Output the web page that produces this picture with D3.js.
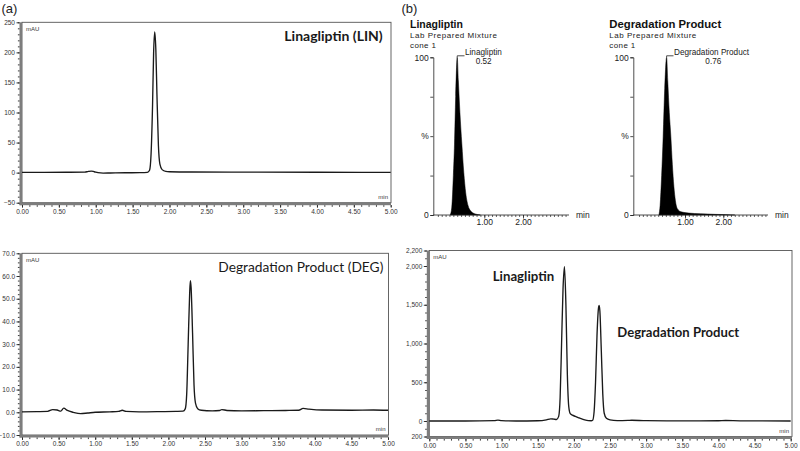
<!DOCTYPE html>
<html><head><meta charset="utf-8">
<script src="https://cdn.jsdelivr.net/npm/d3@7"></script>
<style>
html,body{margin:0;padding:0;background:#fff;}
svg{display:block;}
</style></head>
<body>
<svg id="c" width="800" height="451"></svg>
<script>
// ---------- DATA ----------
// (a) top: Linagliptin (LIN) HPLC, time (min) vs mAU
const linTime = [0,0.3,0.6,0.85,0.9,0.94,0.98,1.03,1.1,1.2,1.4,1.6,1.7,1.73,1.75,1.77,1.785,1.80,1.815,1.83,1.85,1.87,1.9,1.95,2.0,2.3,3.0,4.0,5.0];
const linMAU  = [0.5,0.5,0.6,0.8,2,2.6,1.5,0,-0.8,-0.6,-0.2,0,0.5,4,30,110,200,234,205,130,45,14,5,2,1.5,1,0.8,0.6,0.5];
// (a) bottom: Degradation Product (DEG)
const degTime = [0,0.2,0.35,0.42,0.48,0.53,0.57,0.62,0.7,0.8,0.9,1.0,1.2,1.32,1.37,1.42,1.6,1.9,2.1,2.2,2.23,2.25,2.27,2.29,2.30,2.31,2.33,2.35,2.37,2.4,2.45,2.6,2.7,2.73,2.8,3.0,3.3,3.6,3.78,3.84,3.92,4.1,4.5,4.8,5.0];
const degMAU  = [0.2,0.3,0.4,1.2,1.0,0.5,1.8,0.8,0.0,-0.6,-0.3,0,0.2,0.4,0.9,0.4,0.2,0.3,0.4,0.5,1.5,8,30,52,58,55,35,12,4,1.6,0.9,0.6,0.8,1.2,0.8,0.6,0.7,0.8,0.9,1.7,1.4,1.0,0.9,1.0,0.9];
// (b) bottom: mixture
const mixTime = [0,0.5,0.9,0.95,1.0,1.2,1.5,1.62,1.68,1.72,1.76,1.79,1.81,1.83,1.85,1.87,1.89,1.91,1.93,1.95,1.98,2.02,2.06,2.1,2.15,2.2,2.24,2.26,2.28,2.30,2.32,2.34,2.35,2.36,2.38,2.40,2.42,2.45,2.5,2.6,2.75,2.8,3.0,3.5,4.0,4.1,4.3,5.0];
const mixMAU  = [0,0,5,12,4,0,3,15,28,25,20,60,300,1000,1700,1990,1500,600,180,95,75,60,45,30,15,5,3,10,120,500,1100,1450,1490,1420,900,350,100,35,15,5,8,10,4,2,3,6,2,0];
// (b) top: MS chromatograms (% intensity)
const msLinTime = [0.12,0.16,0.20,0.23,0.26,0.30,0.33,0.37,0.42,0.47,0.52,0.58,0.65,0.75,0.9];
const msLinPct  = [0,5,25,45,75,100,85,65,45,27,14,6,2.5,0.8,0];
const msDegTime = [0.32,0.35,0.39,0.43,0.47,0.52,0.55,0.59,0.63,0.67,0.71,0.75,0.8,0.9,1.1,1.4,1.8,2.1,2.3];
const msDegPct  = [0,6,25,50,80,100,85,65,50,32,18,9,4,2,1.2,0.8,0.4,0.2,0];

const hplcXMajor = [0,0.5,1,1.5,2,2.5,3,3.5,4,4.5,5];
const linYMajor = [-50,0,50,100,150,200,250];
const degYMajor = [-10,0,10,20,30,40,50,60,70];
const mixYMajor = [-200,0,500,1000,1500,2000,2200];
const mixYLabels = ["200","0","500","1,000","1,500","2,000","2,200"];
const msXMajor = [1,2];
const msYTicks = [0,25,50,75,100];

// ---------- DRAW ----------
const svg = d3.select("#c");
const TICKFONT = "Liberation Sans, Arial, sans-serif";

function fitWidth(sel, w){
  sel.each(function(){
    const len = this.getComputedTextLength();
    const fs = parseFloat(this.getAttribute("font-size"));
    if(len>0) this.setAttribute("font-size", fs*w/len);
  });
}
function spreadWidth(sel, w){
  sel.each(function(){
    const len = this.getComputedTextLength();
    const n = this.textContent.length;
    if(len>0 && n>1) this.setAttribute("letter-spacing", Math.max(0,(w-len)/(n-1)));
  });
}

function drawHPLC(cfg){
  const g = svg.append("g");
  const x = d3.scaleLinear().domain([0,5]).range([cfg.x0,cfg.x1]);
  const y = d3.scaleLinear().domain(cfg.ydom).range([cfg.yBot,cfg.yTop]);
  const bw = 2.5;
  g.append("rect").attr("x",cfg.x0).attr("y",cfg.yTop)
    .attr("width",cfg.xr-cfg.x0).attr("height",cfg.yBot-cfg.yTop)
    .attr("fill","none").attr("stroke","#555").attr("stroke-width",0.9);
  g.append("rect").attr("x",cfg.x0-bw).attr("y",cfg.yTop).attr("width",bw)
    .attr("height",cfg.yBot-cfg.yTop+bw).attr("fill","#7d7d7d");
  g.append("rect").attr("x",cfg.x0-bw).attr("y",cfg.yBot).attr("width",cfg.xr-cfg.x0+bw)
    .attr("height",bw).attr("fill","#7d7d7d");
  const yMinor = d3.range(cfg.ydom[0], cfg.ydom[1]+1e-9, cfg.yMinorStep);
  const ya2 = g.append("g").attr("transform",`translate(${cfg.x0-bw},0)`)
    .call(d3.axisLeft(y).tickValues(yMinor).tickSize(1.6).tickFormat(""));
  ya2.select(".domain").remove();
  ya2.selectAll("line").attr("stroke","#222").attr("stroke-width",0.9);
  const ya = g.append("g").attr("transform",`translate(${cfg.x0-bw},0)`)
    .call(d3.axisLeft(y).tickValues(cfg.yMajor).tickSize(3).tickPadding(1.5)
      .tickFormat((d,i)=>cfg.yLabels? cfg.yLabels[i] : d3.format(cfg.yFmt)(d)));
  ya.select(".domain").remove();
  ya.selectAll("line").attr("stroke","#222").attr("stroke-width",0.9);
  ya.selectAll("text").attr("font-size",6.5).attr("font-family",TICKFONT).attr("fill","#333");
  const xMinor = d3.range(0,5.0001,0.1);
  const xa2 = g.append("g").attr("transform",`translate(0,${cfg.yBot+bw})`)
    .call(d3.axisBottom(x).tickValues(xMinor).tickSize(1.6).tickFormat(""));
  xa2.select(".domain").remove();
  xa2.selectAll("line").attr("stroke","#222").attr("stroke-width",0.9);
  const xa = g.append("g").attr("transform",`translate(0,${cfg.yBot+bw})`)
    .call(d3.axisBottom(x).tickValues(hplcXMajor).tickSize(2.5).tickPadding(1.5)
      .tickFormat(d3.format(".2f")));
  xa.select(".domain").remove();
  xa.selectAll("line").attr("stroke","#222").attr("stroke-width",0.9);
  xa.selectAll("text").attr("font-size",6.5).attr("font-family",TICKFONT).attr("fill","#333");
  g.append("text").attr("x",cfg.x0+4).attr("y",cfg.yTop+8.5).text("mAU")
    .attr("font-size",6).attr("font-family",TICKFONT).attr("fill","#333");
  g.append("text").attr("x",cfg.xr-3).attr("y",cfg.yBot-4).text("min")
    .attr("text-anchor","end").attr("font-size",6).attr("font-family",TICKFONT).attr("fill","#333");
  const pts = cfg.t.map((t,i)=>[t,cfg.v[i]]);
  g.append("path").datum(pts)
    .attr("d", d3.line().x(d=>x(d[0])).y(d=>y(d[1])).curve(d3.curveMonotoneX))
    .attr("fill","none").attr("stroke","#1a1a1a").attr("stroke-width",1.35)
    .attr("stroke-linejoin","round");
  return {g,x,y};
}

function drawMS(cfg){
  const g = svg.append("g");
  const x = d3.scaleLinear().domain([0,1]).range([cfg.zero, cfg.zero+cfg.ppm]);
  const y = d3.scaleLinear().domain([0,100]).range([215,57.3]);
  const axStart = cfg.ax0, axEnd = cfg.ax1;
  const pts = cfg.t.map((t,i)=>[t,cfg.v[i]]);
  g.append("path").datum(pts)
    .attr("d", d3.area().x(d=>x(d[0])).y0(y(0)).y1(d=>y(d[1])).curve(d3.curveMonotoneX))
    .attr("fill","#000").attr("stroke","#000").attr("stroke-width",0.5);
  const ya = g.append("g").attr("transform",`translate(${axStart},0)`)
    .call(d3.axisLeft(y).tickValues(msYTicks).tickSize(3).tickPadding(1.5)
      .tickFormat(d=> d===100?"100": d===50?"%": d===0?"0":""));
  ya.select(".domain").attr("stroke","#222").attr("stroke-width",0.8);
  ya.selectAll("line").attr("stroke","#222").attr("stroke-width",0.8);
  ya.selectAll("text").attr("font-size",8.5).attr("font-family",TICKFONT).attr("fill","#222");
  g.append("line").attr("x1",axStart).attr("x2",axEnd).attr("y1",y(0)).attr("y2",y(0))
    .attr("stroke","#222").attr("stroke-width",0.8);
  const tMin = x.invert(axStart+3), tMax = x.invert(axEnd);
  const minor = d3.range(Math.ceil(tMin*10)/10, tMax, 0.1);
  const xa2 = g.append("g").attr("transform",`translate(0,${y(0)})`)
    .call(d3.axisBottom(x).tickValues(minor).tickSize(2).tickFormat(""));
  xa2.select(".domain").remove();
  xa2.selectAll("line").attr("stroke","#222").attr("stroke-width",0.7);
  const xa = g.append("g").attr("transform",`translate(0,${y(0)})`)
    .call(d3.axisBottom(x).tickValues(msXMajor).tickSize(3.5).tickPadding(0.5).tickFormat(d3.format(".2f")));
  xa.select(".domain").remove();
  xa.selectAll("line").attr("stroke","#222").attr("stroke-width",0.8);
  xa.selectAll("text").attr("font-size",8.5).attr("font-family",TICKFONT).attr("fill","#222");
  g.append("text").attr("x",axEnd+7).attr("y",y(0)+3).text("min")
    .attr("font-size",8.5).attr("font-family",TICKFONT).attr("fill","#222");
  const t1 = g.append("text").attr("x",cfg.tx).attr("y",28.3).text(cfg.title)
    .attr("font-size",10.5).attr("font-weight","bold").attr("font-family",TICKFONT).attr("fill","#111");
  fitWidth(t1, cfg.titleW);
  const t2 = g.append("text").attr("x",cfg.tx).attr("y",38.2).text("Lab Prepared Mixture")
    .attr("font-size",8).attr("font-family",TICKFONT).attr("fill","#222");
  spreadWidth(t2, 87);
  const t3 = g.append("text").attr("x",cfg.tx).attr("y",47.5).text("cone 1")
    .attr("font-size",8).attr("font-family",TICKFONT).attr("fill","#222");
  spreadWidth(t3, 26);
  const iMax = d3.maxIndex(cfg.v);
  const px = x(cfg.t[iMax]), py = y(cfg.v[iMax]);
  g.append("path").attr("d",`M${px},${py}V${py-1.5}H${cfg.lx-0.5}`)
    .attr("fill","none").attr("stroke","#222").attr("stroke-width",0.8);
  g.append("text").attr("x",cfg.lx).attr("y",55).text(cfg.peakName)
    .attr("font-size",8.2).attr("font-family",TICKFONT).attr("fill","#222");
  g.append("text").attr("x",cfg.rx).attr("y",64).text(cfg.rt).attr("text-anchor","middle")
    .attr("font-size",8.2).attr("font-family",TICKFONT).attr("fill","#222");
}

drawHPLC({x0:22,x1:390.7,xr:391,yTop:22.3,yBot:202.7,ydom:[-50,250],
  yMajor:linYMajor,yMinorStep:10,yFmt:"d",t:linTime,v:linMAU});
drawHPLC({x0:22,x1:388,xr:388.5,yTop:253.3,yBot:435,ydom:[-10,70],
  yMajor:degYMajor,yMinorStep:2,yFmt:".1f",t:degTime,v:degMAU});
drawHPLC({x0:429.3,x1:790.7,xr:792,yTop:250.5,yBot:436.5,ydom:[-200,2200],
  yMajor:mixYMajor,yLabels:mixYLabels,yMinorStep:100,t:mixTime,v:mixMAU});

drawMS({zero:445.6,ppm:38.7,ax0:433.3,ax1:569,t:msLinTime,v:msLinPct,
  title:"Linagliptin",titleW:53,tx:410,peakName:"Linagliptin",lx:465,rx:483.7,rt:"0.52"});
drawMS({zero:646.7,ppm:38.3,ax0:633.3,ax1:768,t:msDegTime,v:msDegPct,
  title:"Degradation Product",titleW:112,tx:609.3,peakName:"Degradation Product",lx:674,rx:713.3,rt:"0.76"});

svg.append("text").attr("x",1.5).attr("y",12.5).text("(a)")
  .attr("font-size",13).attr("font-family",TICKFONT).attr("fill","#222");
svg.append("text").attr("x",401.5).attr("y",12.5).text("(b)")
  .attr("font-size",13).attr("font-family",TICKFONT).attr("fill","#222");

const bt1 = svg.append("text").attr("x",284.3).attr("y",40.7).text("Linagliptin (LIN)")
  .attr("font-size",15).attr("font-weight","bold").attr("font-family","Lato, sans-serif").attr("fill","#1a1a1a");
fitWidth(bt1, 98.5);
const bt2 = svg.append("text").attr("x",218.3).attr("y",272.3).text("Degradation Product (DEG)")
  .attr("font-size",15).attr("font-family","Lato, sans-serif").attr("fill","#1a1a1a");
fitWidth(bt2, 165);
const bt3 = svg.append("text").attr("x",492.7).attr("y",280.7).text("Linagliptin")
  .attr("font-size",12).attr("font-weight","bold").attr("font-family","Lato, sans-serif").attr("fill","#1a1a1a");
fitWidth(bt3, 61.5);
const bt4 = svg.append("text").attr("x",617.3).attr("y",337.3).text("Degradation Product")
  .attr("font-size",12).attr("font-weight","bold").attr("font-family","Lato, sans-serif").attr("fill","#1a1a1a");
fitWidth(bt4, 122);
</script>
</body></html>
